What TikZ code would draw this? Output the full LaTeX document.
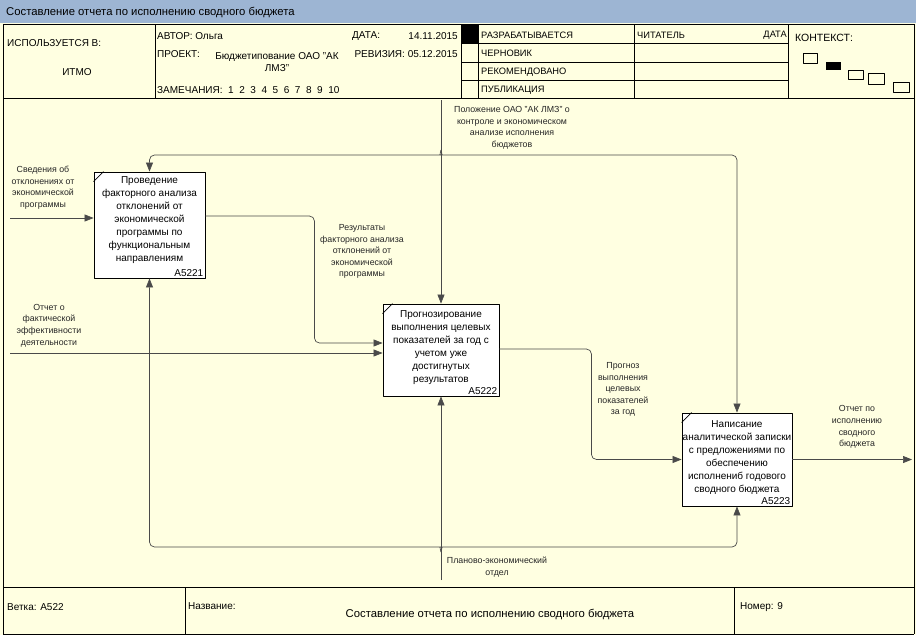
\documentclass[tikz,border=0pt]{standalone}
\usepackage{fontspec}
\setmainfont{Liberation Sans}
\usetikzlibrary{arrows.meta,calc}
\definecolor{paper}{HTML}{FFFFE1}
\definecolor{bar}{HTML}{9DB5D3}
\definecolor{wire}{HTML}{4A4A4A}
\tikzset{
  every picture/.style={x=1pt,y=-1pt,line join=round},
  frame/.style={line width=1pt},
  proc/.style={draw,line width=0.9pt,fill=white},
  boxtxt/.style={align=center,inner sep=0pt,font=\fontsize{10}{12.9}\selectfont},
  tag/.style={anchor=south east,inner sep=2pt,font=\fontsize{10}{12}\selectfont},
  note/.style={align=center,inner sep=0pt,font=\fontsize{8.8}{11.6}\selectfont,text=black!85},
  head/.style={anchor=west,inner sep=0pt,font=\fontsize{10}{12}\selectfont},
  bigtitle/.style={inner sep=0pt,font=\fontsize{11.3}{13}\selectfont},
  stat/.style={anchor=west,inner sep=0pt,font=\fontsize{9.3}{11}\selectfont},
  flow/.style={draw=wire,line width=0.7pt},
  arr/.style={flow,-{Triangle[length=9pt,width=7pt]}},
}

\begin{document}
\begin{tikzpicture}
\useasboundingbox (0,0) rectangle (916,635);
\fill[paper] (0,0) rectangle (916,635);
\fill[bar] (0,0) rectangle (916,23);
\node[bigtitle,anchor=west] (ttl) at (6,12) {Составление отчета по исполнению сводного бюджета};

% header
\draw[frame] (3,24) -- (914,24) (3,98) -- (914,98) (3,587) -- (914,587) (3,634) -- (914,634);
\draw[frame] (3,24) -- (3,634) (914,24) -- (914,634);
\draw[frame] (155,24) -- (155,98) (461,24) -- (461,98) (478,24) -- (478,98)
  (634,24) -- (634,98) (788,24) -- (788,98);
\draw[frame] (461,43) -- (788,43) (461,62) -- (788,62) (461,80) -- (788,80);
\draw[frame] (185,587) -- (185,634) (734,587) -- (734,634);
\fill (461,24) rectangle (478,43);
\node[head] (used) at (7,43) {ИСПОЛЬЗУЕТСЯ В:};
\node[head,anchor=center] (itmo) at (77,72) {ИТМО};
\node[head] (auth) at (157,36) {АВТОР: Ольга};
\node[head] (date) at (352,36) {ДАТА:};
\node[head,anchor=east] (dval) at (458,36) {14.11.2015};
\node[head] (proj) at (157,54) {ПРОЕКТ:};
\node[head,anchor=center,align=center] (pval) at (277,62) {Бюджетипование ОАО "АК\\ЛМЗ"};
\node[head,anchor=east] (rev) at (458,54) {РЕВИЗИЯ: 05.12.2015};
\node[head] (rem) at (157,90) {ЗАМЕЧАНИЯ:\ \ 1\ \ 2\ \ 3\ \ 4\ \ 5\ \ 6\ \ 7\ \ 8\ \ 9\ \ 10};
\node[stat] (s1) at (481,35) {РАЗРАБАТЫВАЕТСЯ};
\node[stat] (s2) at (481,53) {ЧЕРНОВИК};
\node[stat] (s3) at (481,72) {РЕКОМЕНДОВАНО};
\node[stat] (s4) at (481,90) {ПУБЛИКАЦИЯ};
\node[stat] (rdr) at (637,35) {ЧИТАТЕЛЬ};
\node[stat,anchor=east] (rdate) at (787,35) {ДАТА};
\node[head,font=\fontsize{10.5}{12}\selectfont] (ctx) at (795,38) {КОНТЕКСТ:};
\draw[line width=0.8pt] (803,53) rectangle (817,63) (848,70) rectangle (863,79)
  (868,73) rectangle (884,84) (893,82) rectangle (909,92);
\fill (826,62) rectangle (841,70);

% footer
\node[head] (node) at (7,607) {Ветка: А522};
\node[head] (name) at (188,606) {Название:};
\node[bigtitle] (nval) at (490,614) {Составление отчета по исполнению сводного бюджета};
\node[head] (num) at (740,607) {Номер: 9};

% activity boxes
\node[proc,minimum width=111pt,minimum height=106pt] (a1) at (149.5,225) {};
\node[proc,minimum width=116pt,minimum height=92pt] (a2) at (441,350) {};
\node[proc,minimum width=110pt,minimum height=93pt] (a3) at (737,459.5) {};
\foreach \b/\id in {a1/A5221,a2/A5222,a3/A5223}{
  \draw[line width=0.7pt] ([yshift=-10pt]\b.north west) -- ([xshift=10pt]\b.north west);
  \node[tag] (\b id) at (\b.south east) {\id};
}
\node[boxtxt] (a1t) at ([yshift=5pt]a1.center) {Проведение\\факторного анализа\\отклонений от\\экономической\\программы по\\функциональным\\направлениям};
\node[boxtxt] (a2t) at ([yshift=2.5pt]a2.center) {Прогнозирование\\выполнения целевых\\показателей за год с\\учетом уже\\достигнутых\\результатов};
\node[boxtxt] (a3t) at ([yshift=2pt]a3.center) {Написание\\аналитической записки\\с предложениями по\\обеспечению\\исполнениб годового\\сводного бюджета};

% control
\coordinate (ctop) at (441,100);
\coordinate (cj) at (441,155);
\draw[arr] (ctop) -- (a2.north);
\draw[arr,rounded corners=5pt] ($(cj)+(0,-5)$) to[out=-90,in=0] ($(cj)+(-5,0)$) -- (cj -| a1.north) -- (a1.north);
\draw[arr,rounded corners=5pt] ($(cj)+(0,-5)$) to[out=-90,in=180] ($(cj)+(5,0)$) -- (cj -| a3.north) -- (a3.north);
\node[note] (ctl) at (512,128) {Положение ОАО "АК ЛМЗ" о\\контроле и экономическом\\анализе исполнения\\бюджетов};

% inputs
\coordinate (in1) at (10,218);
\coordinate (in2) at (10,353);
\draw[arr] (in1) -- (in1 -| a1.west);
\draw[arr] (in2) -- (in2 -| a2.west);
\node[note] (in1l) at (43,187.5) {Сведения об\\отклонениях от\\экономической\\программы};
\node[note] (in2l) at (49,325.5) {Отчет о\\фактической\\эффективности\\деятельности};

% outputs
\draw[arr,rounded corners=5pt] ([yshift=9pt]a1.east) -- ++(109,0) |- ([yshift=7pt]a2.west);
\draw[arr,rounded corners=5pt] ([yshift=1pt]a2.east) -- ++(92,0) |- (a3.west);
\coordinate (out) at (912,459.5);
\draw[arr] (a3.east) -- (out);
\node[note] (o1l) at (362,251.5) {Результаты\\факторного анализа\\отклонений от\\экономической\\программы};
\node[note] (o2l) at (623,389.5) {Прогноз\\выполнения\\целевых\\показателей\\за год};
\node[note] (o3l) at (857,427) {Отчет по\\исполнению\\сводного\\бюджета};

% mechanism
\coordinate (mbot) at (441,580);
\coordinate (mj) at (441,547);
\draw[arr] (mbot) -- (a2.south);
\draw[arr,rounded corners=5pt] ($(mj)+(0,5)$) to[out=90,in=0] ($(mj)+(-5,0)$) -- (mj -| a1.south) -- (a1.south);
\draw[arr,rounded corners=5pt] ($(mj)+(0,5)$) to[out=90,in=180] ($(mj)+(5,0)$) -- (mj -| a3.south) -- (a3.south);
\node[note] (mechl) at (497,567) {Планово-экономический\\отдел};
\end{tikzpicture}
\end{document}
